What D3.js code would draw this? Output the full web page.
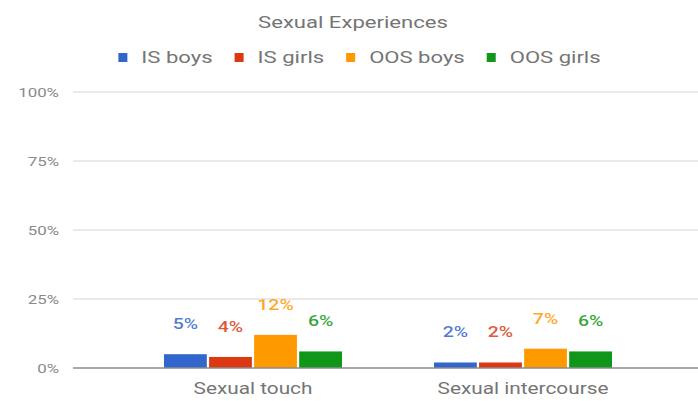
<!DOCTYPE html>
<html>
<head>
<meta charset="utf-8">
<script src="https://cdn.jsdelivr.net/npm/d3@7"></script>
<style>
  html, body { margin: 0; padding: 0; background: #fff; }
  svg { display: block; font-family: Roboto, "Noto Sans", sans-serif; }
</style>
</head>
<body>
<svg id="chart" width="698" height="401"></svg>
<script>
// Survey results: share of respondents reporting each experience
const categories = ["Sexual touch", "Sexual intercourse"];
const seriesNames = ["IS boys", "IS girls", "OOS boys", "OOS girls"];
const isBoys = [5, 2];
const isGirls = [4, 2];
const oosBoys = [12, 7];
const oosGirls = [6, 6];
const tickValues = [0, 25, 50, 75, 100];
const tickLabels = ["0%", "25%", "50%", "75%", "100%"];
const colors = ["#3366cc", "#dc3912", "#ff9900", "#109618"];

const seriesValues = [isBoys, isGirls, oosBoys, oosGirls];
const rows = categories.map((c, i) => ({
  category: c,
  values: seriesNames.map((s, k) => ({ series: s, value: seriesValues[k][i], color: colors[k] }))
}));

const svg = d3.select("#chart");
const SX = 1.3; // horizontal text stretch

function stretchedText(sel, x, y, sx = SX) {
  return sel.attr("transform", `translate(${x},${y}) scale(${sx},1)`);
}

const plotLeft = 73, plotRight = 698;
const y = d3.scaleLinear().domain([0, 100]).range([368, 92]);
const x0 = d3.scaleBand().domain(categories).range([118, 658]).padding(0);
const groupWidth = 178;
const x1 = d3.scaleBand().domain(seriesNames).range([0, groupWidth]).paddingInner(0.05);

// Title
stretchedText(svg.append("text"), 353, 28)
  .attr("text-anchor", "middle")
  .attr("font-size", 17)
  .attr("fill", "#757575")
  .text("Sexual Experiences");

// Legend
const LSX = 1.38;
const legend = svg.append("g");
let lx = 0;
seriesNames.forEach((s, k) => {
  const g = legend.append("g");
  g.append("rect").attr("x", 0).attr("y", -10).attr("width", 9).attr("height", 9).attr("fill", colors[k]);
  const t = g.append("text").attr("font-size", 16).attr("fill", "#757575").text(s);
  stretchedText(t, 23, 0, LSX);
  const w = t.node().getComputedTextLength() * LSX;
  g.attr("transform", `translate(${lx},0)`);
  lx += 23 + w + 22;
});
const legendWidth = lx - 22;
legend.attr("transform", `translate(${359.5 - legendWidth / 2},63)`);

// Gridlines and y tick labels
const yAxis = svg.append("g");
tickValues.forEach((v, i) => {
  if (v !== 0) {
    yAxis.append("line")
      .attr("x1", plotLeft).attr("x2", plotRight)
      .attr("y1", y(v)).attr("y2", y(v))
      .attr("stroke", "#e3e3e3").attr("stroke-width", 1.5);
  }
  stretchedText(yAxis.append("text"), 59, y(v) + 4.5)
    .attr("text-anchor", "end")
    .attr("font-size", 13)
    .attr("fill", "#8a8a8a")
    .text(tickLabels[i]);
});

// Bars
const groups = svg.append("g").selectAll("g")
  .data(rows).join("g")
  .attr("transform", d => `translate(${x0(d.category) + (x0.bandwidth() - groupWidth) / 2},0)`);

groups.selectAll("rect")
  .data(d => d.values).join("rect")
  .attr("x", d => x1(d.series))
  .attr("width", x1.bandwidth())
  .attr("y", d => y(d.value))
  .attr("height", d => y(0) - y(d.value))
  .attr("fill", d => d.color);

// Value labels above bars
groups.selectAll("text.value")
  .data(d => d.values).join("text")
  .attr("class", "value")
  .attr("text-anchor", "middle")
  .attr("font-size", 15)
  .attr("font-weight", 500)
  .attr("fill", d => d.color)
  .attr("fill-opacity", 0.85)
  .each(function(d) {
    stretchedText(d3.select(this), x1(d.series) + x1.bandwidth() / 2, y(d.value) - 25);
  })
  .text(d => d.value + "%");

// Baseline
svg.append("line")
  .attr("x1", plotLeft).attr("x2", plotRight)
  .attr("y1", y(0)).attr("y2", y(0))
  .attr("stroke", "#8c8c8c").attr("stroke-width", 1.5);

// Category labels
categories.forEach(c => {
  stretchedText(svg.append("text"), x0(c) + x0.bandwidth() / 2, 394)
    .attr("text-anchor", "middle")
    .attr("font-size", 16)
    .attr("fill", "#757575")
    .text(c);
});
</script>
</body>
</html>
